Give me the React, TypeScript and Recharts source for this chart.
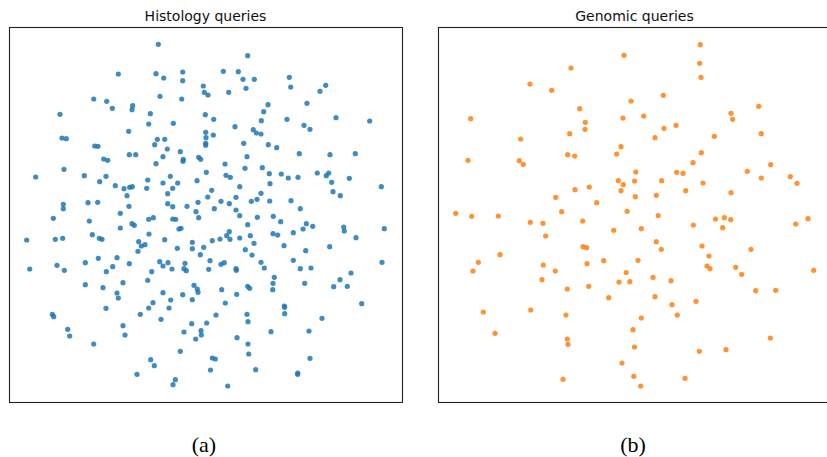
import React from 'react';
import { ScatterChart, Scatter, XAxis, YAxis } from 'recharts';

// t-SNE style embeddings (arbitrary units)
const histologyPoints: [number, number][] = [
  [158.3,44.3],[118.3,74],[156,73.7],[182.7,72],[163.7,78],[182.7,80.7],[203.3,86],[204.3,92.3],[208,95],[93.7,99],
  [106.7,101.3],[160,96.3],[181.7,99],[132.7,105.7],[132,109.7],[112.3,108.3],[60,114.3],[150.3,113.7],[205.3,114.7],[148.7,124],
  [173.3,123.3],[128.7,131.3],[205.7,132.3],[62,138],[66.3,138.7],[157.3,139.3],[164.7,139.3],[206,137.7],[154.7,144.7],[205.7,143.3],
  [205.7,145.3],[94.7,146],[98,146.3],[167.3,149],[180.3,151.7],[129.3,154.7],[135.7,154.7],[163,156.7],[198.7,157.3],[200.7,159.3],
  [103.7,159],[107.7,160.3],[183.3,159.3],[183,161.3],[156,163.7],[64,169.3],[206.3,172.3],[35.7,177],[84.3,175.7],[106,176.3],
  [170.3,176.3],[147.7,180],[99.7,181.7],[197,180.7],[163,183],[177.7,183],[115.3,185.7],[129.7,187.3],[132.3,186.7],[124,188.7],
  [146.7,188.3],[172.7,188.3],[167.7,193.7],[127,195.7],[207.7,197],[63.3,204.3],[63.3,208.7],[88,202.7],[97.7,202.3],[129,206.3],
  [167.7,203.7],[172.7,206.7],[187,206.3],[198,202.3],[196,211.7],[120.3,213.3],[53.3,218.3],[89.3,221],[148.7,219.3],[153.3,217.7],
  [172.7,219],[175.7,219.3],[198.7,217.7],
  [26.7,240],[55.3,239.3],[62.7,238.3],[92.3,234.7],[99.3,238.3],[102,239.3],[120.3,228],[132,223.7],[134.3,225.3],[149,234],
  [138.7,241.7],[141.3,246],[145,244.7],[138,251.3],[164.7,239.7],[179,229],[181,228.3],[177.3,248.3],[192.3,242.3],[192.3,248.7],
  [203.7,247.3],[200.3,254.7],[210,260.7],[29.7,269],[57,265.3],[64.3,270.3],[85.3,262.7],[98.3,258.3],[117,257.7],[112.7,266.7],
  [106.3,271.7],[129.3,263.7],[159.7,261.7],[163,266],[168,262.7],[172,269],[151.7,271.7],[185,263.3],[184,268.7],[186.3,270.7],
  [208.7,269.3],[85.3,284.7],[123,282.7],[147.7,280.3],[103,287.7],[117,293],[118.3,298],[163,292.7],[182.7,294.7],[194,285.3],
  [197.3,289],[198,292.3],[170.7,300],[153,302.7],[148.7,308],[169,308],[192.3,299.7],[106,308.3],[140.3,314.3],[161,319.3],
  [52.3,314.3],[53.7,316.7],[67.7,329.3],[69.7,336],[123,325.7],[125,335],[93.7,344],[184,332],[191.7,323.7],[201,330.7],
  [201.3,335],[195.7,339],[206.7,323],[180.3,351.3],[150.7,359.7],[154.3,365.7],[137,374.3],[175.3,379.7],[173,384.7],[210.5,370],
  [212.3,358],
  [247.7,55.7],[223.3,71.3],[238.3,71.7],[243,79.3],[254.3,79.3],[246,88.3],[228.7,92.3],[289.3,77.3],[290.7,87],[320,91.3],
  [325.7,85.3],[268,104.7],[263.7,111.7],[307,103.3],[213.7,119.3],[261.3,120.7],[287,119.3],[336,117.7],[369.7,121],[235,126.7],
  [253.3,129.7],[256.3,133],[261,134],[304,125.3],[310,129.3],[213.3,135],[243.7,143.3],[268.3,144.7],[276.7,147.7],[299.3,153.7],
  [330,154.7],[355.3,153.7],[247,156.7],[225,164],[245,168.3],[262.3,167.7],[226,175.3],[230.3,177.3],[269.3,173.7],[281.3,174],
  [288.3,178],[298,177.3],[317.3,173],[326.3,175.7],[328.7,173],[349.3,178.3],[331.7,182.3],[381.3,186.7],[270,183.7],[239.7,186.7],
  [211.7,190.3],[261,193.3],[333,191.7],[340.3,195.7],[236,197.3],[257,199.3],[251.3,201.3],[269.7,201],[291,200.7],[221,201.3],
  [229.3,203.7],[214.3,208.7],[236,210],[300.3,208.7],[239.7,215.7],[257.3,217.3],[273.3,216.3],[280.7,221.7],
  [247.7,224.7],[306.3,223.7],[312.7,226.3],[303,229],[293.3,232.7],[273,233.7],[277.7,235],[343.7,227],[344.3,231],[384.3,228.7],
  [356,237.7],[226.7,235.7],[229.3,231.7],[220,239],[230,239.3],[212.3,240.7],[239.7,238],[250.3,235.7],[254,243.3],[284,245.7],
  [329.7,246.7],[305.7,250.7],[245.3,249.7],[252,255],[221,264.3],[224.3,262.7],[236,268.7],[236.3,270.3],[261,262.3],[264.3,268],
  [293.3,260.3],[300.3,268.7],[311,268],[382,262.3],[351,273],[340,279.7],[333.7,286.7],[347.3,286.3],[274.3,277.3],[273,283.3],
  [272.7,289.7],[304.7,283.3],[247.7,286.3],[249.7,288.3],[221.7,289.7],[236.7,294.3],[361.7,303.7],[225.3,303],[284.3,306],[284.6,307.3],
  [284.7,313.7],[322,318.3],[216,315],[247,314.3],[248,321.7],[271,331.7],[309,331],[237,337.7],[248,344],[248.7,354],
  [215.3,359],[310,358.3],[255.7,369.7],[297.7,373],[297.7,374.3],[227.7,386],
];

const genomicPoints: [number, number][] = [
  [624,55.3],[571,68],[530,84],[551.7,90.3],[631,101],[579.7,108.7],[470.7,118.7],[623,118],[585.3,122.3],[585,129.3],
  [569.7,133.7],[520.7,139],[621,146.7],[567.7,154.7],[574.7,156],[616.7,154],[468,160.3],[519.3,160.7],[523.3,164.3],[635.8,172],
  [634.6,181],[618.3,180.7],[623.3,184.7],[621,190.7],[589.3,187],[575,189.7],[555.7,197.3],[596.7,202.7],[635.3,196.7],[455.7,213.3],
  [471.7,216.3],[498.3,216],[561.7,211.7],[627.2,211.3],
  [700.3,44.7],[699.7,63.3],[701,77.3],[663.3,95.3],[643.7,116],[664,128.3],[676,125.3],[655,137.7],[731,113.3],[732.7,119.3],
  [758.7,106.3],[761.3,133.7],[714.3,136.3],[701.3,152.7],[693,162.7],[770.7,164.7],[747.3,171.3],[761.3,178],[790.3,176.7],[797,183.3],
  [676.7,172.3],[683,173.3],[661.7,180.7],[703,183],[685.7,190.7],[731,192.7],[656.3,195.3],[658.2,215.5],[715.5,219],[724.3,217.7],
  [730.7,219.7],[808,218.7],
  [530.3,222.3],[543,223.3],[582.7,221],[545.7,236],[613.7,230.3],[583,246.7],[586.7,247.7],[500,254.7],[478.3,262.3],[473,271],
  [543.3,265],[555.3,271],[587,263.7],[603.7,260.7],[626.2,272.5],[619,282],[629.8,281.7],[542,279.7],[567.3,289],[588.7,286.3],
  [608.7,297.7],[483.3,312],[530.7,310],[566,315],[495,333.3],[567.3,339],[568,344.3],[633,329.7],[634.5,347],[622,363],
  [633.8,376.3],[563,379.3],
  [641.3,228.7],[693.3,225],[722.7,227.7],[795.7,224],[656.3,241.7],[661.3,249.3],[702,246],[709,256],[707,266],[710,268.7],
  [751,249.3],[735.7,267.3],[741.7,274.3],[813.7,270.3],[638,260.3],[653,277.3],[671,280.7],[755.7,290.7],[775.7,290.3],[655,296.7],
  [672,304.7],[696,301.3],[677.3,315],[641.3,318],[770.3,338],[699.3,351.3],[726,349.7],[685,378.3],[640.7,386],
];

const panelTitles = ['Histology queries', 'Genomic queries'];
const panelCaptions = ['(a)', '(b)'];

const histologyData = histologyPoints.map(([x, y]) => ({ x, y }));
const genomicData = genomicPoints.map(([x, y]) => ({ x, y }));

const makeDot = (color: string) => (props: any) => (
  <circle cx={props.cx} cy={props.cy} r={2.6} fill={color} fillOpacity={0.85} />
);

function Panel({ data, color, left, xDomain }: { data: any[]; color: string; left: number; xDomain: [number, number] }) {
  return (
    <div style={{ position: 'absolute', left, top: 0 }}>
      <ScatterChart width={402} height={457} margin={{ top: 27, right: 0, bottom: 54, left: 9 }}>
        <XAxis type="number" dataKey="x" domain={xDomain} hide />
        <YAxis type="number" dataKey="y" domain={[27, 403]} reversed hide />
        <Scatter data={data} isAnimationActive={false} shape={makeDot(color)} />
      </ScatterChart>
    </div>
  );
}

export default function App() {
  return (
    <div style={{ position: 'absolute', left: 0, top: 0, width: 827, height: 457, overflow: 'hidden', background: '#fff' }}>
      <Panel data={histologyData} color="#1f77b4" left={0} xDomain={[9, 402]} />
      <Panel data={genomicData} color="#ff7f0e" left={429} xDomain={[438, 831]} />
      <svg width={827} height={457} style={{ position: 'absolute', left: 0, top: 0, pointerEvents: 'none' }}>
        <rect x={9.5} y={27.5} width={393} height={375} fill="none" stroke="#222" strokeWidth={1.1} />
        <rect x={438.5} y={27.5} width={393} height={375} fill="none" stroke="#222" strokeWidth={1.1} />
        <text x={205.5} y={21} textAnchor="middle" fontFamily="DejaVu Sans" fontSize={14} fill="#111">{panelTitles[0]}</text>
        <text x={634.5} y={21} textAnchor="middle" fontFamily="DejaVu Sans" fontSize={14} fill="#111">{panelTitles[1]}</text>
        <text x={204} y={452} textAnchor="middle" fontFamily="Liberation Serif" fontSize={22} fill="#000">{panelCaptions[0]}</text>
        <text x={633} y={452} textAnchor="middle" fontFamily="Liberation Serif" fontSize={22} fill="#000">{panelCaptions[1]}</text>
      </svg>
    </div>
  );
}
